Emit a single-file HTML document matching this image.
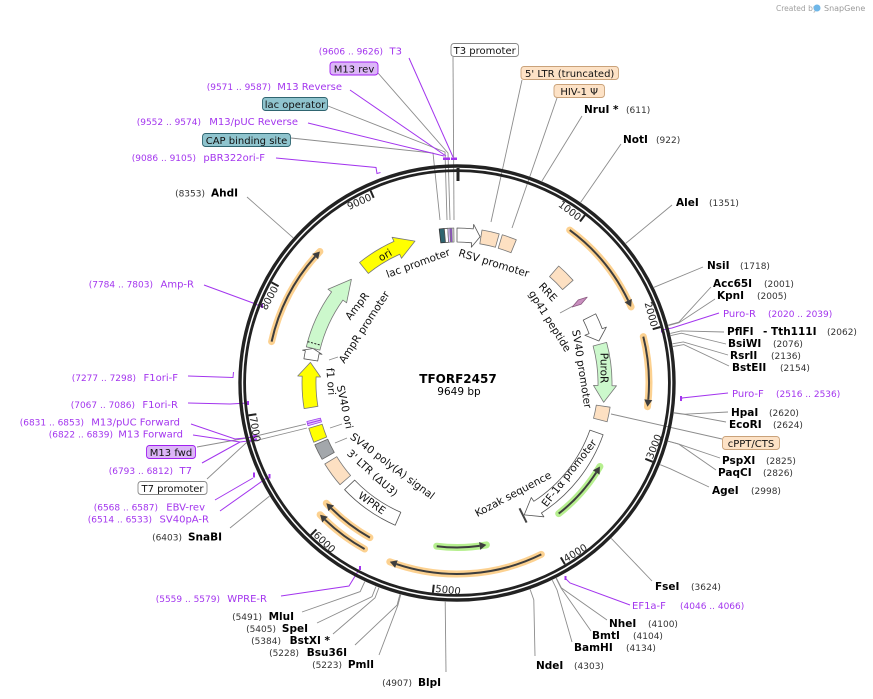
<!DOCTYPE html>
<html><head><meta charset="utf-8"><style>
html,body{margin:0;padding:0;background:#fff;}
svg{display:block;}
text{font-family:"DejaVu Sans","Liberation Sans",sans-serif;}
.en{font-weight:bold;font-size:10.5px;fill:#000;}
.nm{font-size:9px;fill:#333;}
.pr{font-size:10px;fill:#a335ee;}
.pn{font-size:9px;fill:#a335ee;}
.bx{font-size:10px;fill:#111;}
.il{font-size:10.5px;fill:#111;}
.tk{font-size:10px;fill:#222;}
</style></head><body>
<svg width="873" height="699" viewBox="0 0 873 699" xmlns="http://www.w3.org/2000/svg">
<rect width="873" height="699" fill="#fff"/>

<!-- Created by SnapGene -->
<text x="776" y="11" font-size="7.5" fill="#a0a0a0">Created by</text>
<circle cx="817" cy="8" r="3.5" fill="#6fb7e8"/>
<text x="824" y="11" font-size="8" fill="#9a9a9a">SnapGene</text>

<!-- enzyme leader lines -->
<g stroke="#8c8c8c" stroke-width="0.9" fill="none">
<polyline points="582,116 541.9,181.1"/>
<polyline points="621,144 580.7,202.3"/>
<polyline points="672,205 625.7,243.4"/>
<polyline points="703,267 654,287.3"/>
<polyline points="711,287 678.8,322.2 668.2,325.1"/>
<polyline points="715,299 679,322.7 668.3,325.6"/>
<polyline points="724,332 681,330.9 670.3,333.4"/>
<polyline points="726,344 681.5,333.2 670.8,335.6"/>
<polyline points="728,355 683.3,341.9 672.5,343.8"/>
<polyline points="729,366 683.8,344.6 672.9,346.5"/>
<polyline points="728,412 684.9,414.2 674,412.7"/>
<polyline points="726,422 684.9,414.4 674,413.1"/>
<polyline points="720,458 678.7,444.1 668.1,441.2"/>
<polyline points="716,470 678.7,444.1 668.1,441.2"/>
<polyline points="709,487 670.4,468.8 660.2,464.7"/>
<polyline points="652,581 611.3,538.4"/>
<polyline points="607,620 561.4,587.9 556.4,578.1"/>
<polyline points="591,631 561,588 556.1,578.3"/>
<polyline points="572,642 557.1,590.1 552.3,580.2"/>
<polyline points="535,656 533.8,599.8 530.1,589.4"/>
<polyline points="446,672 445.2,601.7"/>
<polyline points="379,655 397.9,605.3 400.7,594.6"/>
<polyline points="355,645 397.1,605.1 399.9,594.4"/>
<polyline points="333,634 375,597.9 378.9,587.6"/>
<polyline points="317,623 372,596.7 376,586.5"/>
<polyline points="302,612 360.2,591.6 364.8,581.6"/>
<polyline points="230,528 269.5,496.1"/>
<polyline points="247,197 293.2,237.8"/>
<!-- feature leaders -->
<polyline points="453,57 454,220"/>
<polyline points="378,73 448,153 450,220"/>
<polyline points="328,106 445,152 447,220"/>
<polyline points="291,138 433,153 440,220"/>
<polyline points="522,80 491,222"/>
<polyline points="557,98 512,228"/>
<polyline points="722,439 620,416 611,414"/>
<polyline points="197,447 252,437 306,424"/>
<polyline points="207,479 246,443 307,428"/>
<polyline points="560,313 573,306"/>
<polyline points="330,428 342,424"/>
<polyline points="335,443 347,438"/>
<polyline points="329,360 338,357"/>
</g>

<!-- primer leaders -->
<g stroke="#a335ee" stroke-width="1" fill="none">
<polyline points="409,58 453,157"/>
<polyline points="350,90 446,156"/>
<polyline points="308,123 444,156"/>
<polyline points="276,158 376,167.5 377,173.5 380.5,172.5"/>
<polyline points="204,285 253,303 262,307"/>
<polyline points="188,376 233,377.5 233.5,372"/>
<polyline points="188,403 230,404 248,403"/>
<polyline points="191,424 235,439 255,437"/>
<polyline points="193,435 240,442 256,440"/>
<polyline points="202,463 240,442"/>
<polyline points="215,500 253,478"/>
<polyline points="220,511 268,477"/>
<polyline points="281,596 349,586 360,568"/>
<polyline points="630,605 570,583 566,579"/>
<polyline points="719,313 672,328 662,330"/>
<polyline points="728,393 682,398 681,401"/>
</g>
<g fill="#a335ee">
<rect x="443" y="157.5" width="7" height="2.5"/>
<rect x="451" y="157.5" width="6" height="2.5"/>
<rect x="261" y="303.5" width="2" height="4.5"/>
<rect x="247" y="401" width="2" height="4"/>
<rect x="250" y="435.5" width="7" height="2.2" transform="rotate(-15 253 437)"/>
<rect x="250" y="439" width="7" height="2" transform="rotate(-15 253 440)"/>
<rect x="253" y="472.5" width="2" height="5"/>
<rect x="268.5" y="474" width="2" height="4.5"/>
<rect x="359" y="566" width="2" height="4"/>
<rect x="564.5" y="576" width="2" height="4"/>
<rect x="661" y="327" width="2" height="5.5"/>
<rect x="680" y="396" width="2" height="5"/>
</g>

<!-- main ring -->
<circle cx="457" cy="383" r="217" fill="none" stroke="#222" stroke-width="3.4"/>
<circle cx="457" cy="383" r="212.4" fill="none" stroke="#222" stroke-width="2.8"/>
<line x1="458" y1="168" x2="458" y2="181" stroke="#222" stroke-width="3"/>

<!-- ticks -->
<g stroke="#222" stroke-width="2">
<line x1="580.0" y1="221.5" x2="584.9" y2="215.1"/>
<line x1="652.7" y1="329.2" x2="660.4" y2="327.0"/>
<line x1="645.3" y1="458.8" x2="652.7" y2="461.8"/>
<line x1="560.8" y1="557.4" x2="564.9" y2="564.3"/>
<line x1="433.8" y1="584.7" x2="432.9" y2="592.6"/>
<line x1="316.4" y1="529.4" x2="310.8" y2="535.2"/>
<line x1="256.4" y1="414.2" x2="248.5" y2="415.4"/>
<line x1="278.6" y1="286.2" x2="271.5" y2="282.4"/>
<line x1="373.7" y1="197.8" x2="370.5" y2="190.5"/>
</g>
<g class="tk">
<text class="tk" x="455" y="181" text-anchor="end" transform="rotate(37.31 457 383)">1000</text>
<text class="tk" x="455" y="181" text-anchor="end" transform="rotate(74.62 457 383)">2000</text>
<text class="tk" x="459" y="593" transform="rotate(-68.07 457 383)">3000</text>
<text class="tk" x="459" y="593" transform="rotate(-30.76 457 383)">4000</text>
<text class="tk" x="459" y="593" transform="rotate(6.55 457 383)">5000</text>
<text class="tk" x="459" y="593" transform="rotate(43.86 457 383)">6000</text>
<text class="tk" x="459" y="593" transform="rotate(81.17 457 383)">7000</text>
<text class="tk" x="455" y="181" text-anchor="end" transform="rotate(-61.52 457 383)">8000</text>
<text class="tk" x="455" y="181" text-anchor="end" transform="rotate(-24.21 457 383)">9000</text>
</g>

<!-- ORF arcs -->
<g fill="none" stroke-linecap="round">
<path d="M569.7,230.1 A190,190 0 0 1 631.1,306.9" stroke="#fcd190" stroke-width="7"/>
<path d="M643.3,336.6 A192,192 0 0 1 647.5,406.7" stroke="#fcd190" stroke-width="7"/>
<path d="M541.3,554.4 A191,191 0 0 1 389.8,561.8" stroke="#fcd190" stroke-width="7"/>
<path d="M364.6,549.0 A190,190 0 0 1 320.1,514.7" stroke="#fcd190" stroke-width="7"/>
<path d="M369.9,537.6 A177.5,177.5 0 0 1 326.3,503.2" stroke="#fcd190" stroke-width="7"/>
<path d="M271.6,341.6 A190,190 0 0 1 319.9,251.5" stroke="#fcd190" stroke-width="7"/>
<path d="M436.7,546.2 A164.5,164.5 0 0 0 486.4,544.9" stroke="#b6ef8f" stroke-width="7"/>
<path d="M558.7,513.6 A165.5,165.5 0 0 0 599.9,466.5" stroke="#b6ef8f" stroke-width="7"/>
<g stroke="#3d3d3d" stroke-width="2" stroke-linecap="butt">
<path d="M569.7,230.1 A190,190 0 0 1 628.2,300.6"/>
<path d="M643.3,336.6 A192,192 0 0 1 648.3,399.7"/>
<path d="M541.3,554.4 A191,191 0 0 1 396.4,564.1"/>
<path d="M364.6,549.0 A190,190 0 0 1 325.0,519.7"/>
<path d="M369.9,537.6 A177.5,177.5 0 0 1 331.3,508.3"/>
<path d="M271.6,341.6 A190,190 0 0 1 315.1,256.6"/>
<path d="M436.7,546.2 A164.5,164.5 0 0 0 479.6,545.9"/>
<path d="M558.7,513.6 A165.5,165.5 0 0 0 596.3,472.4"/>
</g>
</g>
<g fill="#3d3d3d">
<polygon points="631.1,306.9 631.8,298.9 624.6,302.3"/>
<polygon points="647.5,406.7 652.3,400.1 644.3,399.4"/>
<polygon points="389.8,561.8 395.1,567.9 397.7,560.3"/>
<polygon points="320.1,514.7 322.2,522.5 327.8,516.8"/>
<polygon points="326.3,503.2 328.4,511.1 334.1,505.5"/>
<polygon points="319.9,251.5 312.2,253.9 318.1,259.3"/>
<polygon points="486.4,544.9 480.2,549.9 479.1,542.0"/>
<polygon points="599.9,466.5 599.6,474.6 592.9,470.2"/>
</g>

<!-- features -->
<g stroke="#777" stroke-width="0.8" stroke-linejoin="round">
<path d="M439.2,229.0 L444.3,228.5 L445.5,242.5 L440.8,242.9 Z" fill="#2f6470" stroke="#333"/>
<path d="M444.3,228.5 L447.8,228.3 L448.6,242.3 L445.5,242.5 Z" fill="#fff" stroke="#555"/>
<path d="M447.8,228.3 L450.0,228.2 L450.6,242.1 L448.6,242.3 Z" fill="#d8b4fe"/>
<path d="M450.0,228.2 L451.9,228.1 L452.3,242.1 L450.6,242.1 Z" fill="#9b3cf0"/>
<path d="M451.9,228.1 L453.8,228.0 L454.0,242.0 L452.3,242.1 Z" fill="#e8e8e8"/>
<path d="M457,228 A155,155 0 0 1 473.2,228.9 L473.7,224.4 L480.1,236.8 L471.3,247.2 L471.7,242.8 A141,141 0 0 0 457,242 Z" fill="#fff" stroke="#555"/>
<path d="M482.0,230.0 A155,155 0 0 1 499.2,233.9 L495.4,247.3 A141,141 0 0 0 479.8,243.8 Z" fill="#fde0c2"/>
<path d="M502.3,234.8 A155,155 0 0 1 516.3,239.8 L511.0,252.7 A141,141 0 0 0 498.2,248.2 Z" fill="#fde0c2"/>
<path d="M558.7,266.0 A155,155 0 0 1 573.1,280.3 L562.6,289.6 A141,141 0 0 0 549.5,276.6 Z" fill="#fde0c2"/>
<polygon points="572.2,307 578.3,299.9 587.2,297.1 581.1,304.2" fill="#c98fbf" stroke="#8a5a80"/>
<path d="M595.7,313.8 A155,155 0 0 1 602.2,328.7 L606.4,327.1 L598.9,341.0 L584.9,335.2 L589.1,333.6 A141,141 0 0 0 583.2,320.1 Z" fill="#fff" stroke="#555"/>
<path d="M606.6,342.4 A155,155 0 0 1 612.0,385.7 L616.5,385.8 L603.7,402.3 L593.5,385.4 L598.0,385.5 A141,141 0 0 0 593.1,346.0 Z" fill="#ccf8cc"/>
<path d="M610.1,407.2 A155,155 0 0 1 607.1,421.8 L593.5,418.3 A141,141 0 0 0 596.3,405.1 Z" fill="#fde0c2"/>
<path d="M603.1,434.7 A155,155 0 0 1 541.4,513.0 L543.9,516.8 L524.2,514.9 L531.3,497.5 L533.8,501.3 A141,141 0 0 0 589.9,430.1 Z" fill="#fff" stroke="#555"/>
<line x1="519.5" y1="508.3" x2="526.6" y2="522.6" stroke="#444" stroke-width="2"/>
<path d="M395.2,525.2 A155,155 0 0 1 344.6,489.7 L354.7,480.1 A141,141 0 0 0 400.8,512.3 Z" fill="#fff" stroke="#555"/>
<path d="M340.0,484.7 A155,155 0 0 1 324.8,464.0 L336.8,456.7 A141,141 0 0 0 350.6,475.5 Z" fill="#fde0c2"/>
<path d="M322.1,459.3 A155,155 0 0 1 314.8,444.8 L327.7,439.2 A141,141 0 0 0 334.3,452.4 Z" fill="#a3a7ab" stroke="#666"/>
<path d="M313.8,442.3 A155,155 0 0 1 308.8,428.3 L322.2,424.2 A141,141 0 0 0 326.7,437.0 Z" fill="#ffff00"/>
<path d="M308.0,425.7 L306.9,421.5 L320.4,418.1 L321.5,421.9 Z" fill="#e4c4ff" stroke="#a040f0"/>
<line x1="307.4" y1="423.6" x2="321" y2="420" stroke="#a040f0" stroke-width="1"/>
<path d="M304.1,408.6 A155,155 0 0 1 302.2,376.2 L297.7,376.0 L310.4,362.4 L320.6,377.0 L316.1,376.9 A141,141 0 0 0 317.9,406.3 Z" fill="#ffff00"/>
<path d="M303.9,358.8 A155,155 0 0 1 305.4,350.8 L302.5,350.1 L313.1,348.5 L322.0,354.3 L319.1,353.7 A141,141 0 0 0 317.7,361.0 Z" fill="#fff" stroke="#555"/>
<path d="M306.3,346.8 A155,155 0 0 1 331.6,291.9 L328.0,289.2 L351.4,279.3 L346.6,302.8 L342.9,300.1 A141,141 0 0 0 319.9,350.1 Z" fill="#ccf8cc"/>
<line x1="307.6" y1="341.6" x2="321.1" y2="345.3" stroke="#222" stroke-width="1" stroke-dasharray="2,1.5"/>
<path d="M359.5,262.5 A155,155 0 0 1 394.0,241.4 L392.1,237.3 L415.0,241.1 L401.5,258.3 L399.7,254.2 A141,141 0 0 0 368.3,273.4 Z" fill="#ffff00"/>
</g>

<!-- inner labels -->
<g class="il" text-anchor="middle">
<text class="il" transform="translate(418,263) rotate(-20)" dy="0.35em">lac promoter</text>
<text class="il" transform="translate(494,263) rotate(17)" dy="0.35em">RSV promoter</text>
<text class="il" transform="translate(548,292) rotate(47)" dy="0.35em">RRE</text>
<text class="il" transform="translate(550,321) rotate(58)" dy="0.35em">gp41 peptide</text>
<text class="il" transform="translate(582,369) rotate(81)" dy="0.35em">SV40 promoter</text>
<text class="il" transform="translate(569,473) rotate(-52)" dy="0.35em">EF-1α promoter</text>
<text class="il" transform="translate(513,494) rotate(-28)" dy="0.35em">Kozak sequence</text>
<text class="il" transform="translate(372,503) rotate(35)" dy="0.35em" font-size="11">WPRE</text>
<text class="il" transform="translate(372.5,473) rotate(42)" dy="0.35em">3' LTR (ΔU3)</text>
<text class="il" transform="translate(392.5,466) rotate(37)" dy="0.35em">SV40 poly(A) signal</text>
<text class="il" transform="translate(345,407) rotate(78)" dy="0.35em">SV40 ori</text>
<text class="il" transform="translate(331,381.5) rotate(86)" dy="0.35em">f1 ori</text>
<text class="il" transform="translate(364,327) rotate(-57)" dy="0.35em">AmpR promoter</text>
<text class="il" transform="translate(357,306) rotate(-52)" dy="0.35em">AmpR</text>
<text class="il" transform="translate(385,255) rotate(-30)" dy="0.35em">ori</text>
<text class="il" transform="translate(604,368) rotate(90)" dy="0.35em">PuroR</text>
</g>

<!-- center -->
<text x="458" y="383" text-anchor="middle" font-size="12" font-weight="bold" fill="#000">TFORF2457</text>
<text x="459" y="395" text-anchor="middle" font-size="10.5" fill="#000">9649 bp</text>

<!-- feature boxes -->
<g stroke-width="0.9">
<rect x="330" y="62" width="48" height="13" rx="3" fill="#dcb6f8" stroke="#a020f0"/>
<rect x="262.5" y="97.5" width="65" height="13" rx="3" fill="#8fc4ce" stroke="#2f6570"/>
<rect x="202.5" y="133.5" width="88" height="13" rx="3" fill="#8fc4ce" stroke="#2f6570"/>
<rect x="451" y="43.5" width="67.5" height="13" rx="3" fill="#fff" stroke="#888"/>
<rect x="521" y="66.5" width="97.5" height="13" rx="3" fill="#fde2c6" stroke="#c9a27a"/>
<rect x="554" y="84.5" width="50.5" height="13" rx="3" fill="#fde2c6" stroke="#c9a27a"/>
<rect x="722.5" y="436.5" width="57" height="13" rx="3" fill="#fde2c6" stroke="#c9a27a"/>
<rect x="146.5" y="445.5" width="49" height="13" rx="3" fill="#dcb6f8" stroke="#a020f0"/>
<rect x="138" y="481.5" width="69" height="13" rx="3" fill="#fff" stroke="#888"/>
</g>
<g class="bx" text-anchor="middle">
<text class="bx" x="354" y="72.5">M13 rev</text>
<text class="bx" x="295" y="108">lac operator</text>
<text class="bx" x="246.5" y="144">CAP binding site</text>
<text class="bx" x="484.7" y="54">T3 promoter</text>
<text class="bx" x="569.7" y="77">5' LTR (truncated)</text>
<text class="bx" x="579.2" y="95">HIV-1 Ψ</text>
<text class="bx" x="751" y="447">cPPT/CTS</text>
<text class="bx" x="171" y="456">M13 fwd</text>
<text class="bx" x="172.5" y="492">T7 promoter</text>
</g>

<!-- left labels (right aligned) -->
<g text-anchor="end">
<text class="pn" x="383" y="54.5">(9606 .. 9626)</text><text class="pr" x="402" y="54.5">T3</text>
<text class="pn" x="271" y="90">(9571 .. 9587)</text><text class="pr" x="342" y="90">M13 Reverse</text>
<text class="pn" x="201" y="125">(9552 .. 9574)</text><text class="pr" x="298" y="125">M13/pUC Reverse</text>
<text class="pn" x="196" y="161">(9086 .. 9105)</text><text class="pr" x="265" y="161">pBR322ori-F</text>
<text class="nm" x="205" y="196.5">(8353)</text><text class="en" x="238" y="196.5">AhdI</text>
<text class="pn" x="153" y="287.5">(7784 .. 7803)</text><text class="pr" x="194" y="287.5">Amp-R</text>
<text class="pn" x="136" y="381">(7277 .. 7298)</text><text class="pr" x="178" y="381">F1ori-F</text>
<text class="pn" x="135" y="408">(7067 .. 7086)</text><text class="pr" x="178" y="408">F1ori-R</text>
<text class="pn" x="84" y="425.5">(6831 .. 6853)</text><text class="pr" x="180" y="425.5">M13/pUC Forward</text>
<text class="pn" x="113" y="437.5">(6822 .. 6839)</text><text class="pr" x="183" y="437.5">M13 Forward</text>
<text class="pn" x="173" y="474">(6793 .. 6812)</text><text class="pr" x="192" y="474">T7</text>
<text class="pn" x="158" y="510.5">(6568 .. 6587)</text><text class="pr" x="205" y="510.5">EBV-rev</text>
<text class="pn" x="152" y="522.5">(6514 .. 6533)</text><text class="pr" x="209" y="522.5">SV40pA-R</text>
<text class="nm" x="182" y="540.5">(6403)</text><text class="en" x="222" y="540.5">SnaBI</text>
<text class="pn" x="220" y="602">(5559 .. 5579)</text><text class="pr" x="267" y="602">WPRE-R</text>
<text class="nm" x="262" y="620">(5491)</text><text class="en" x="294" y="620">MluI</text>
<text class="nm" x="276" y="632">(5405)</text><text class="en" x="308" y="632">SpeI</text>
<text class="nm" x="281" y="644">(5384)</text><text class="en" x="330" y="644">BstXI *</text>
<text class="nm" x="299" y="656">(5228)</text><text class="en" x="347" y="656">Bsu36I</text>
<text class="nm" x="342" y="668">(5223)</text><text class="en" x="374" y="668">PmlI</text>
<text class="nm" x="412" y="686">(4907)</text><text class="en" x="441" y="686">BlpI</text>
</g>

<!-- right labels -->
<g>
<text class="en" x="584" y="113">NruI *</text><text class="nm" x="626" y="113">(611)</text>
<text class="en" x="623" y="143">NotI</text><text class="nm" x="656" y="143">(922)</text>
<text class="en" x="676" y="206">AleI</text><text class="nm" x="709" y="206">(1351)</text>
<text class="en" x="707" y="269">NsiI</text><text class="nm" x="740" y="269">(1718)</text>
<text class="en" x="713" y="287">Acc65I</text><text class="nm" x="764" y="287">(2001)</text>
<text class="en" x="717" y="299">KpnI</text><text class="nm" x="757" y="299">(2005)</text>
<text class="pr" x="723" y="317">Puro-R</text><text class="pn" x="768" y="317">(2020 .. 2039)</text>
<text class="en" x="727" y="335">PflFI</text><text class="en" x="763" y="335">- Tth111I</text><text class="nm" x="827" y="335">(2062)</text>
<text class="en" x="728" y="347">BsiWI</text><text class="nm" x="773" y="347">(2076)</text>
<text class="en" x="730" y="359">RsrII</text><text class="nm" x="771" y="359">(2136)</text>
<text class="en" x="732" y="371">BstEII</text><text class="nm" x="780" y="371">(2154)</text>
<text class="pr" x="732" y="397">Puro-F</text><text class="pn" x="776" y="397">(2516 .. 2536)</text>
<text class="en" x="731" y="416">HpaI</text><text class="nm" x="769" y="416">(2620)</text>
<text class="en" x="729" y="428">EcoRI</text><text class="nm" x="773" y="428">(2624)</text>
<text class="en" x="722" y="464">PspXI</text><text class="nm" x="766" y="464">(2825)</text>
<text class="en" x="718" y="476">PaqCI</text><text class="nm" x="763" y="476">(2826)</text>
<text class="en" x="712" y="494">AgeI</text><text class="nm" x="751" y="494">(2998)</text>
<text class="en" x="655" y="590">FseI</text><text class="nm" x="691" y="590">(3624)</text>
<text class="pr" x="632" y="609">EF1a-F</text><text class="pn" x="680" y="609">(4046 .. 4066)</text>
<text class="en" x="609" y="627">NheI</text><text class="nm" x="648" y="627">(4100)</text>
<text class="en" x="592" y="639">BmtI</text><text class="nm" x="633" y="639">(4104)</text>
<text class="en" x="574" y="651">BamHI</text><text class="nm" x="626" y="651">(4134)</text>
<text class="en" x="536" y="669">NdeI</text><text class="nm" x="574" y="669">(4303)</text>
</g>
</svg>
</body></html>
